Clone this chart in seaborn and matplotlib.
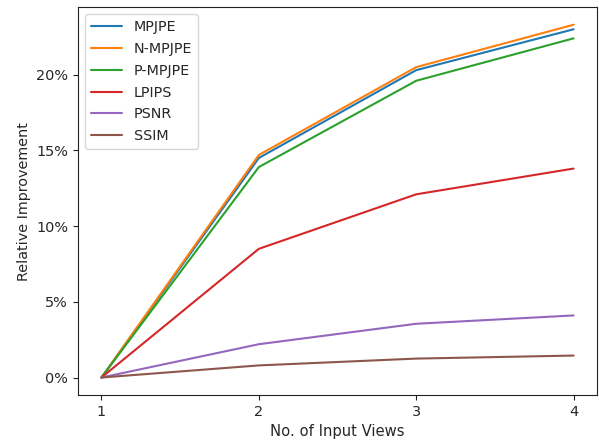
import numpy as np
import pandas as pd
import matplotlib
matplotlib.use('Agg')
import matplotlib.pyplot as plt
import seaborn as sns
from matplotlib.ticker import PercentFormatter

sns.set_style('white')
plt.rcParams['font.family'] = ['DejaVu Sans']

views = [1, 2, 3, 4]
mpjpe = [0.0, 14.5, 20.3, 23.0]
n_mpjpe = [0.0, 14.7, 20.5, 23.3]
p_mpjpe = [0.0, 13.9, 19.6, 22.4]
lpips = [0.0, 8.5, 12.1, 13.8]
psnr = [0.0, 2.2, 3.55, 4.1]
ssim = [0.0, 0.8, 1.25, 1.45]

series = {'MPJPE': mpjpe, 'N-MPJPE': n_mpjpe, 'P-MPJPE': p_mpjpe,
          'LPIPS': lpips, 'PSNR': psnr, 'SSIM': ssim}
rows = []
for name, vals in series.items():
    for v, val in zip(views, vals):
        rows.append({'views': v, 'value': val, 'metric': name})
df = pd.DataFrame(rows)

fig, ax = plt.subplots(figsize=(5.99, 4.43), dpi=100)
sns.lineplot(data=df, x='views', y='value', hue='metric', palette='tab10', ax=ax, linewidth=1.5)

ax.set_xticks(views)
ax.yaxis.set_major_formatter(PercentFormatter(decimals=0))
ax.set_xlabel('No. of Input Views', fontsize=10.6)
ax.set_ylabel('Relative Improvement', fontsize=10.4)
for s in ax.spines.values():
    s.set_color('#222222')
    s.set_linewidth(0.8)
ax.tick_params(axis='both', which='major', direction='out', length=3.5, width=0.8, color='#222222',
               bottom=True, left=True, labelsize=10.4)
leg = ax.legend(loc='upper left', frameon=True, fontsize=10.3, labelspacing=0.55, handlelength=2.2)
leg.get_frame().set_edgecolor('#cccccc')
fig.subplots_adjust(left=0.13, right=0.997, top=0.984, bottom=0.108)
plt.savefig('out.png', dpi=100)
